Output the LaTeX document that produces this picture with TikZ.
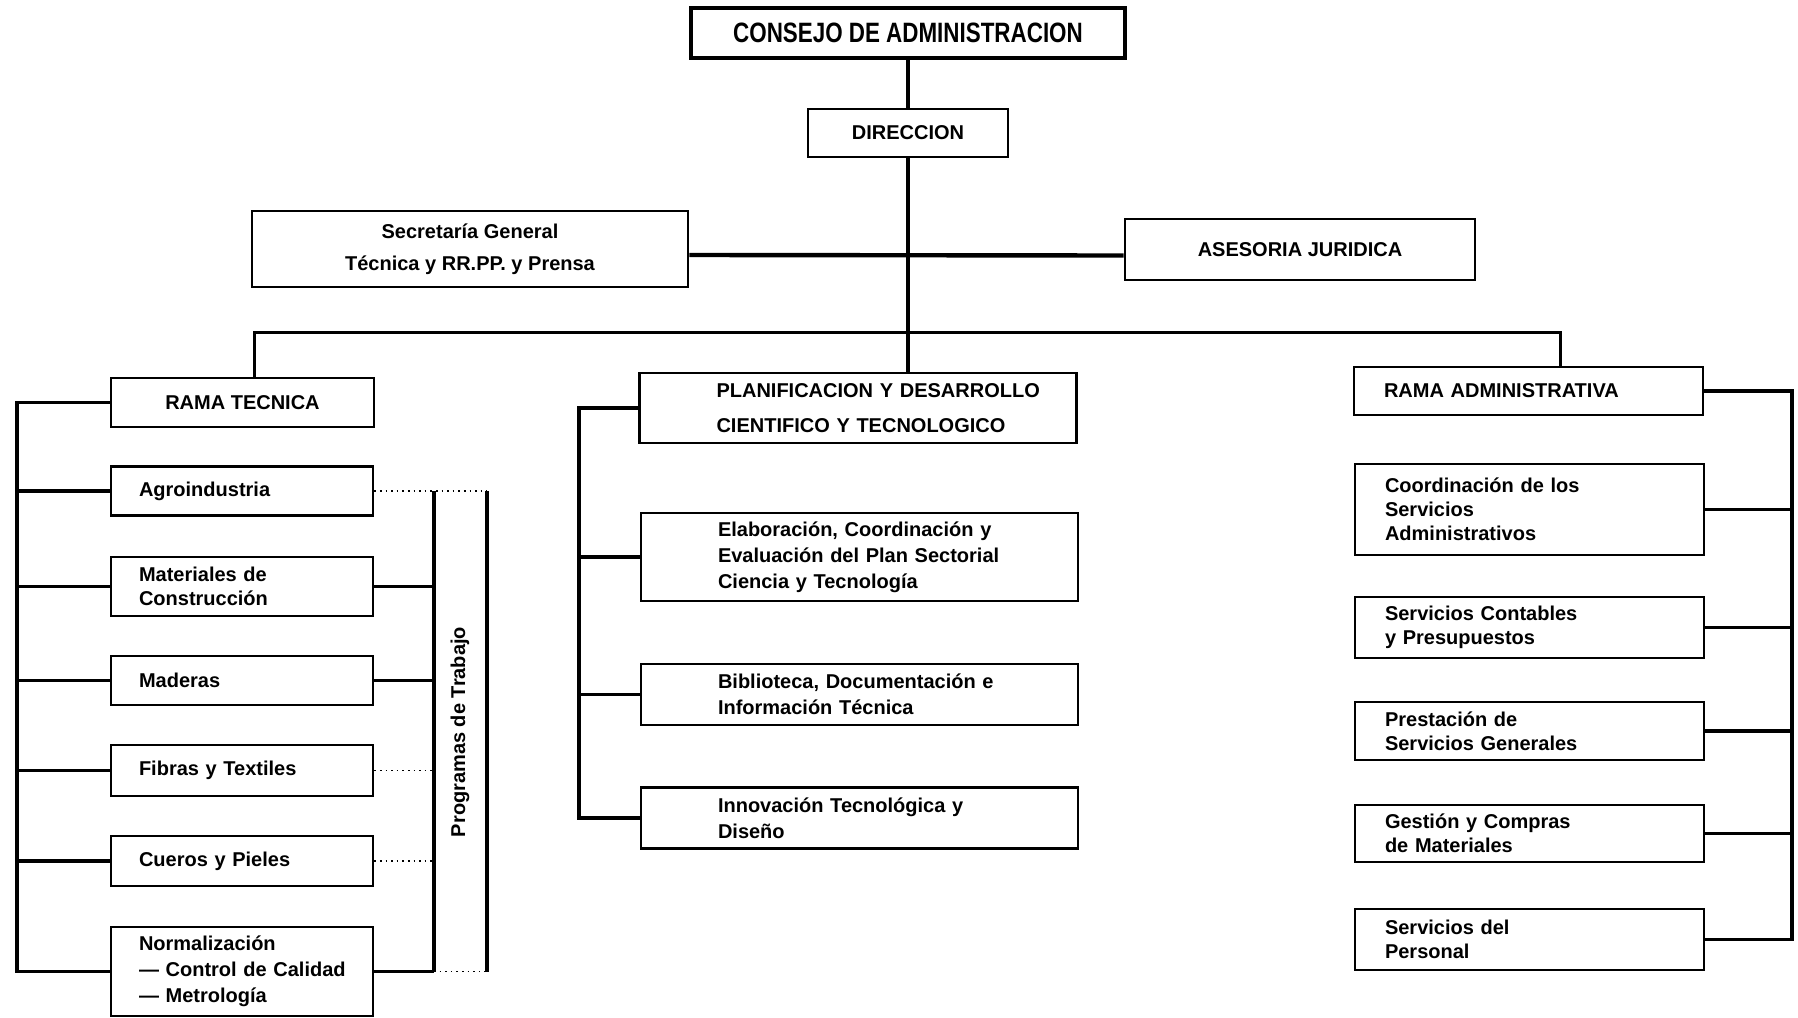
\documentclass[tikz,border=0pt]{standalone}
\usepackage{fontspec}
\setmainfont{Liberation Sans}
\newcommand{\textocaja}{\fontsize{10}{12}\selectfont\bfseries}
\tikzset{
  % Specifications for style of nodes:
            base/.style = {rectangle, draw=black, line width=1.3pt,
                           inner xsep=4pt, inner ysep=2pt, font=\textocaja},
          cabeza/.style = {base, align=center},
         tecnica/.style = {base, minimum width=131pt, text width=123pt, align=left,
                           execute at begin node={\leftskip=10pt\relax}},
   planificacion/.style = {base, minimum width=218.5pt, text width=210.5pt, align=left,
                           font=\fontsize{10}{13}\selectfont\bfseries,
                           execute at begin node={\leftskip=34.5pt\relax}},
  administrativa/.style = {base, minimum width=174.5pt, text width=166.5pt, align=left,
                           execute at begin node={\leftskip=11pt\relax}},
  % Specifications for style of lines:
           linea/.style = {line width=1.6pt},
        punteada/.style = {line width=0.8pt, dotted},
}

\begin{document}
\begin{tikzpicture}[x=0.5pt, y=-0.5pt]
    \useasboundingbox (0,0) rectangle (1798,1017);
    % Specification of nodes (position, etc.)
    \node (consejo)    [cabeza, minimum width=217pt, minimum height=25pt, line width=1.8pt,
                        font=\fontsize{14}{16}\selectfont\bfseries] at (908,33)
                                          {\scalebox{0.8}[1]{CONSEJO DE ADMINISTRACION}};
    \node (direccion)  [cabeza, minimum width=100pt, minimum height=24pt] at (908,133)
                                                                      {DIRECCION};
    \node (secretaria) [cabeza, minimum width=218pt, minimum height=38pt,
                        font=\fontsize{10}{16}\selectfont\bfseries] at (470,249)
                                 {Secretaría General\\Técnica y RR.PP. y Prensa};
    \node (asesoria)   [cabeza, minimum width=175pt, minimum height=30.5pt] at (1300,249.5)
                                                              {ASESORIA JURIDICA};

    % Rama tecnica
    \node (ramaTec)    [cabeza, minimum width=131.5pt, minimum height=24.5pt] at (242.5,402.5)
                                                                   {RAMA TECNICA};
    \node (agro)       [tecnica, minimum height=24.5pt] at (242,491)  {Agroindustria};
    \node (materiales) [tecnica, minimum height=29.5pt] at (242,586.5)
                                                  {Materiales de\\Construcción};
    \node (maderas)    [tecnica, minimum height=24.5pt] at (242,680.5)      {Maderas};
    \node (fibras)     [tecnica, minimum height=25.5pt] at (242,770.5)
                                                              {Fibras y Textiles};
    \node (cueros)     [tecnica, minimum height=25pt]   at (242,861)  {Cueros y Pieles};
    \node (normal)     [tecnica, minimum height=44.5pt,
                        font=\fontsize{10}{13}\selectfont\bfseries] at (242,971.5)
                   {Normalización\\--- Control de Calidad\\--- Metrología};
    \node (programas)  [rotate=90, font=\textocaja] at (460,732) {Programas de Trabajo};

    % Planificacion
    \node (planif)     [planificacion, minimum height=35pt,
                        font=\fontsize{10}{17.5}\selectfont\bfseries] at (858,408)
                   {PLANIFICACION Y DESARROLLO\\CIENTIFICO Y TECNOLOGICO};
    \node (elab)       [planificacion, minimum height=44pt] at (859.5,557)
                   {Elaboración, Coordinación y\\Evaluación del Plan Sectorial\\Ciencia y Tecnología};
    \node (biblio)     [planificacion, minimum height=30.5pt] at (859.5,694.5)
                   {Biblioteca, Documentación e\\Información Técnica};
    \node (innov)      [planificacion, minimum height=30.5pt] at (859.5,818)
                   {Innovación Tecnológica y\\Diseño};

    % Rama administrativa
    \node (ramaAdm)    [administrativa, minimum height=24pt] at (1528.5,391)
                                                            {RAMA ADMINISTRATIVA};
    \node (coord)      [administrativa, minimum height=45.5pt] at (1529.5,509.5)
                   {Coordinación de los\\Servicios\\Administrativos};
    \node (contab)     [administrativa, minimum height=30.5pt] at (1529.5,627.5)
                   {Servicios Contables\\y Presupuestos};
    \node (prest)      [administrativa, minimum height=29pt] at (1529.5,731)
                   {Prestación de\\Servicios Generales};
    \node (gestion)    [administrativa, minimum height=28.5pt] at (1529.5,833.5)
                   {Gestión y Compras\\de Materiales};
    \node (personal)   [administrativa, minimum height=30.5pt] at (1529.5,939.5)
                   {Servicios del\\Personal};

    \coordinate (bus)        at (908,332.5);
    \coordinate (espinaIzq)  at (17,0);
    \coordinate (espinaCen)  at (579,0);
    \coordinate (espinaDer)  at (1792,0);
    \coordinate (progIzq)    at (434,0);
    \coordinate (progDer)    at (487,0);

    % Specification of lines between nodes specified above
    \draw[linea]  (consejo) -- (direccion);
    \draw[linea]  (direccion.south) -- (direccion.south |- planif.north);
    \draw[linea, line width=2.2pt] ([yshift=-3pt]secretaria.east)
                                -- ([yshift=-3pt]asesoria.west);
    \draw[linea]  ([xshift=6pt]ramaTec.north) |- (bus) -| ([xshift=16pt]ramaAdm.north);

    \draw[linea]  (ramaTec.west) -- (ramaTec.west -| espinaIzq)
                  -- (normal.west -| espinaIzq) -- (normal.west);
    \foreach \u in {agro, materiales, maderas, fibras, cueros}
        \draw[linea] (\u.west) -- (\u.west -| espinaIzq);

    \draw[punteada] (agro.east) -- (agro.east -| progDer);
    \draw[linea]    (agro.east -| progIzq) -- (normal.east -| progIzq);
    \draw[linea]    (agro.east -| progDer) -- (normal.east -| progDer);
    \draw[punteada] (normal.east -| progIzq) -- (normal.east -| progDer);
    \draw[linea]    (materiales.east) -- (materiales.east -| progIzq);
    \draw[linea]    (maderas.east) -- (maderas.east -| progIzq);
    \draw[punteada] (fibras.east) -- (fibras.east -| progIzq);
    \draw[punteada] (cueros.east) -- (cueros.east -| progIzq);
    \draw[linea]    (normal.east) -- (normal.east -| progIzq);

    \draw[linea]  (planif.west) -- (planif.west -| espinaCen)
                  -- (innov.west -| espinaCen) -- (innov.west);
    \foreach \u in {elab, biblio}
        \draw[linea] (\u.west) -- (\u.west -| espinaCen);

    \draw[linea]  (ramaAdm.east) -- (ramaAdm.east -| espinaDer)
                  -- (personal.east -| espinaDer) -- (personal.east);
    \foreach \u in {coord, contab, prest, gestion}
        \draw[linea] (\u.east) -- (\u.east -| espinaDer);

\end{tikzpicture}
\end{document}
